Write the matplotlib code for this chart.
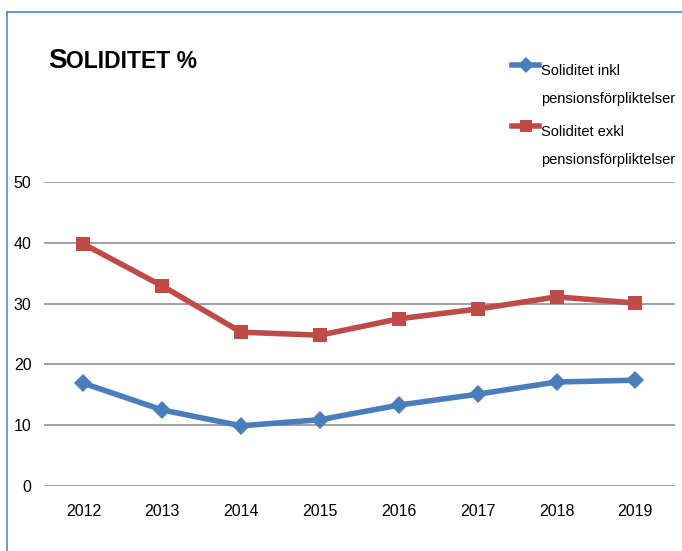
import matplotlib
matplotlib.use("Agg")
import matplotlib.pyplot as plt
from matplotlib.lines import Line2D

years = ["2012", "2013", "2014", "2015", "2016", "2017", "2018", "2019"]
inkl = [16.9, 12.5, 9.9, 10.9, 13.3, 15.1, 17.1, 17.4]
exkl = [39.8, 32.9, 25.3, 24.8, 27.5, 29.1, 31.1, 30.1]
yticks = [0, 10, 20, 30, 40, 50]

blue = "#4a7ebb"
red = "#be4b48"
font = ["Liberation Sans", "DejaVu Sans"]

fig = plt.figure(figsize=(6.82, 5.51), dpi=100)
ax = fig.add_axes([0.0645, 0.118, 0.925, 0.5517])

x = range(len(years))
ax.plot(x, inkl, color=blue, lw=4, marker="D", ms=9, mew=0, zorder=3)
ax.plot(x, exkl, color=red, lw=4, marker="s", ms=10, mew=0, zorder=3)

ax.set_xlim(-0.5, len(years) - 0.5)
ax.set_ylim(0, 50)
ax.set_yticks(yticks)
ax.set_xticks(list(x))
ax.set_xticklabels(years, family=font, fontsize=11.5)
ax.set_yticklabels([str(v) for v in yticks], family=font, fontsize=11.5)
for s in ax.spines.values():
    s.set_visible(False)
ax.grid(axis="y", color="#868686", lw=1.1)
ax.set_axisbelow(True)
ax.tick_params(axis="x", length=0, pad=13)
ax.tick_params(axis="y", length=0, pad=9)

# outer frame (left and top border)
fig.add_artist(Line2D([7 / 682, 7 / 682], [0, 1 - 12 / 551], color="#4a8ac4", lw=1.2))
fig.add_artist(Line2D([7 / 682, 1], [1 - 12 / 551, 1 - 12 / 551], color="#4a8ac4", lw=1.2))

# title in small caps
fig.text(48 / 682, 1 - 68 / 551, "S", fontsize=20, fontweight="bold",
         family=font, va="baseline")
fig.text(66.5 / 682, 1 - 68 / 551, "OLIDITET %", fontsize=16.5, fontweight="bold",
         family=font, va="baseline")

# legend
entries = [(blue, "D", 8.5, "Soliditet inkl", 65), (red, "s", 8.5, "Soliditet exkl", 126)]
for col, mk, ms, lab, yy in entries:
    fy = 1 - yy / 551
    fig.add_artist(Line2D([512 / 682, 539 / 682], [fy, fy], color=col, lw=4))
    fig.add_artist(Line2D([526 / 682], [fy], color=col, marker=mk, ms=ms, mew=0))
    fig.text(541 / 682, fy - 10 / 551, lab, fontsize=10.5, family=font, va="baseline")
    fig.text(541 / 682, fy - 38 / 551, "pensionsförpliktelser", fontsize=10.5,
             family=font, va="baseline")

fig.savefig("out.png", dpi=100)
